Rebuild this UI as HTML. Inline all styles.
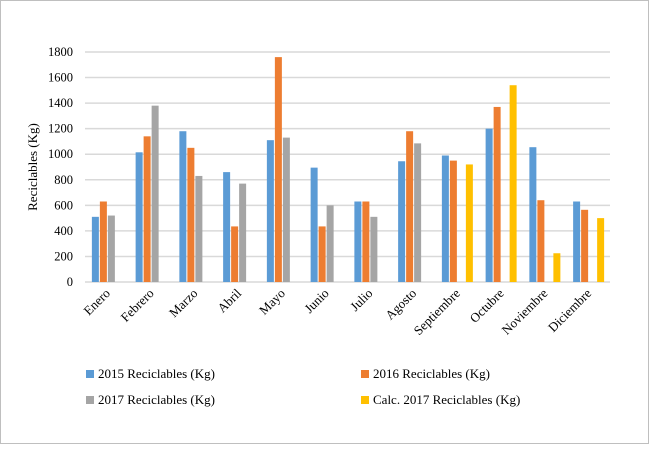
<!DOCTYPE html>
<html><head><meta charset="utf-8"><style>
body{margin:0;background:#fff;}
svg text{font-family:"Liberation Serif",serif;fill:#000;}
</style></head><body>
<svg id="c" width="650" height="445" xmlns="http://www.w3.org/2000/svg">
<rect x="0.5" y="0.5" width="648" height="443" fill="#fff" stroke="#bfbfbf"/>
<g id="grid"></g><g id="bars"></g><g id="xl"></g><g id="yl"></g>
<text transform="translate(37,167) rotate(-90)" text-anchor="middle" font-size="13">Reciclables (Kg)</text>
<g id="legend"></g>
</svg>
<script>
const categories=["Enero","Febrero","Marzo","Abril","Mayo","Junio","Julio","Agosto","Septiembre","Octubre","Noviembre","Diciembre"];
const s2015=[510,1015,1180,860,1110,895,630,945,990,1200,1055,630];
const s2016=[630,1140,1050,435,1760,435,630,1180,950,1370,640,565];
const s2017=[520,1380,830,770,1130,600,510,1085,null,null,null,null];
const sCalc=[null,null,null,null,null,null,null,null,920,1540,225,500];
const yTicks=[0,200,400,600,800,1000,1200,1400,1600,1800];
const seriesNames=["2015 Reciclables (Kg)","2016 Reciclables (Kg)","2017 Reciclables (Kg)","Calc. 2017 Reciclables (Kg)"];
const colors=["#5b9bd5","#ed7d31","#a5a5a5","#ffc000"];
const NS="http://www.w3.org/2000/svg";
const x0=85,x1=610,yb=282,yt=52,ymax=1800;
const bw=(x1-x0)/categories.length;
const Y=v=>yb-(v/ymax)*(yb-yt);
const X=i=>x0+bw*(i+0.5);
function mk(t,a,p){const e=document.createElementNS(NS,t);for(const k in a)e.setAttribute(k,a[k]);p.appendChild(e);return e;}
const grid=document.getElementById('grid'),yl=document.getElementById('yl');
yTicks.forEach(v=>{
 const l=mk('line',{x1:x0,x2:x1,y1:Y(v),y2:Y(v),stroke:'#d9d9d9','stroke-width':1.5},grid);
 
 
 const t=mk('text',{x:73,y:Y(v)+4,'text-anchor':'end','font-size':12.5},yl);t.textContent=v;
 
 
});
const bars=document.getElementById('bars'),xl=document.getElementById('xl');
const all=[s2015,s2016,s2017,sCalc];
categories.forEach((c,i)=>{
 all.forEach((s,k)=>{
  const v=s[i]; if(v==null)return;
  const r=mk('rect',{x:X(i)-15+k*8,y:Y(v),width:7,height:yb-Y(v),fill:colors[k]},bars);
  
  
 });
 const t=mk('text',{transform:`translate(${X(i)+4},${yb+12}) rotate(-45)`,'text-anchor':'end','font-size':13},xl);
 t.textContent=c;
 
 
});
const lg=document.getElementById('legend');
const pos=[[86,375],[361,375],[86,401],[361,401]];
seriesNames.forEach((n,k)=>{
 const g=mk('g',{},lg);
 
 
 mk('rect',{x:pos[k][0],y:pos[k][1]-5,width:8,height:8,fill:colors[k]},g);
 const t=mk('text',{x:pos[k][0]+12,y:pos[k][1]+3,'font-size':13},g);t.textContent=n;
});
</script>
</body></html>
